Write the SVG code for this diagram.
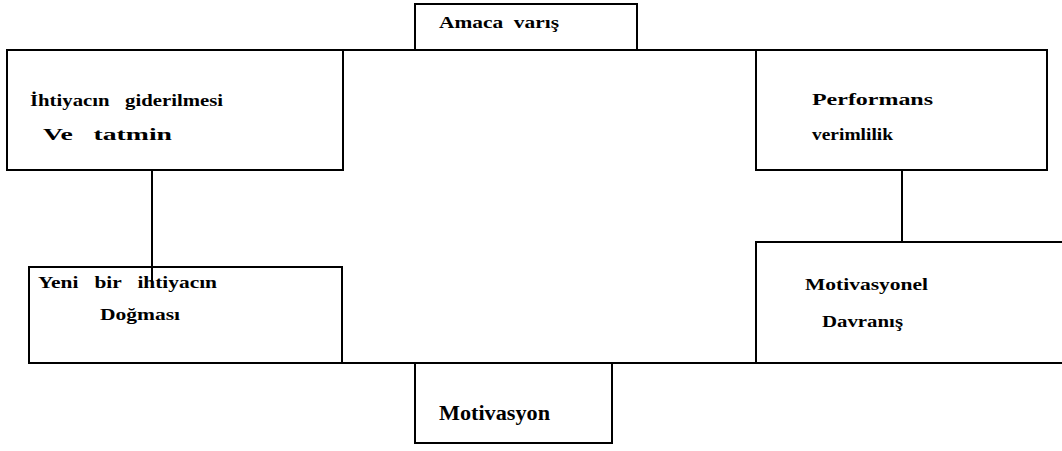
<svg xmlns="http://www.w3.org/2000/svg" width="1062" height="451" viewBox="0 0 1062 451" xml:space="preserve">
<style>
.box{fill:none;stroke:#000;stroke-width:2}
.ln{fill:none;stroke:#000;stroke-width:2}
.t{font-family:"Liberation Serif","Times New Roman",serif;font-weight:bold;font-size:17px;fill:#000;white-space:pre}
.tb{font-family:"Liberation Serif","Times New Roman",serif;font-weight:bold;font-size:20px;fill:#000}
</style>
<rect width="1062" height="451" fill="#fff"/>
<g id="connectors">
<path class="ln" d="M7 50 H1047"/>
<path class="ln" d="M29 363 H1062"/>
<path class="ln" d="M152 170 V282"/>
<path class="ln" d="M902 170 V242"/>
</g>
<g id="amaca">
<path class="box" d="M415 50 V4 H637 V50"/>
<text class="t" x="439" y="28" textLength="120" lengthAdjust="spacingAndGlyphs">Amaca  varış</text>
</g>
<g id="ihtiyac-giderilmesi">
<rect class="box" x="7" y="50" width="336" height="120"/>
<text class="t" x="30" y="106" textLength="193" lengthAdjust="spacingAndGlyphs">İhtiyacın   giderilmesi</text>
<text class="t" x="43" y="140" textLength="129" lengthAdjust="spacingAndGlyphs">Ve   tatmin</text>
</g>
<g id="performans">
<rect class="box" x="756" y="50" width="291" height="120"/>
<text class="t" x="812" y="105" textLength="121" lengthAdjust="spacingAndGlyphs">Performans</text>
<text class="t" x="812" y="140" textLength="81" lengthAdjust="spacingAndGlyphs">verimlilik</text>
</g>
<g id="yeni-ihtiyac">
<rect class="box" x="29" y="267" width="313" height="96"/>
<text class="t" x="38" y="288" textLength="179" lengthAdjust="spacingAndGlyphs">Yeni   bir   ihtiyacın</text>
<text class="t" x="100" y="320" textLength="80" lengthAdjust="spacingAndGlyphs">Doğması</text>
</g>
<g id="motivasyonel-davranis">
<path class="box" d="M1062 242 H756 V363"/>
<text class="t" x="805" y="290" textLength="123" lengthAdjust="spacingAndGlyphs">Motivasyonel</text>
<text class="t" x="822" y="327" textLength="81" lengthAdjust="spacingAndGlyphs">Davranış</text>
</g>
<g id="motivasyon">
<path class="box" d="M415 363 V443 H612 V363"/>
<text class="tb" x="439" y="420" textLength="111" lengthAdjust="spacingAndGlyphs">Motivasyon</text>
</g>
</svg>
